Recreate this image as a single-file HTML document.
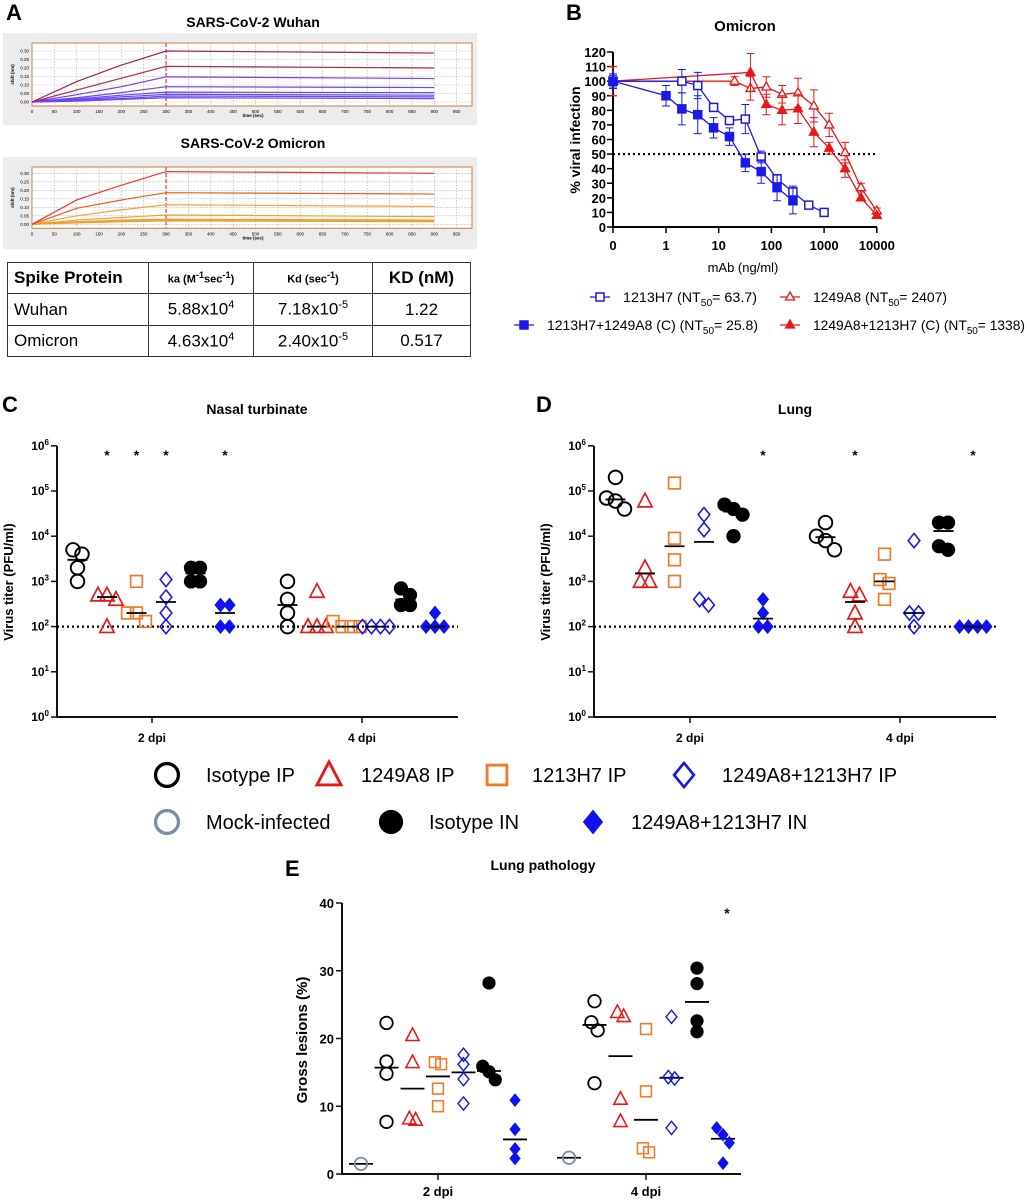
<!DOCTYPE html>
<html><head><meta charset="utf-8"><style>
html,body{margin:0;padding:0;background:#fff;}
svg{display:block;font-family:"Liberation Sans",Arial,sans-serif;}
</style></head><body>
<svg id="fig" width="1027" height="1200" viewBox="0 0 1027 1200" xmlns="http://www.w3.org/2000/svg">
<text x="6" y="20" font-size="22" font-weight="bold">A</text>
<text x="253" y="27" font-size="14" font-weight="bold" text-anchor="middle">SARS-CoV-2 Wuhan</text>
<text x="253" y="148" font-size="14" font-weight="bold" text-anchor="middle">SARS-CoV-2 Omicron</text>
<text x="566" y="20" font-size="22" font-weight="bold">B</text>
<text x="745" y="31" font-size="15" font-weight="bold" text-anchor="middle">Omicron</text>
<text x="2" y="412" font-size="22" font-weight="bold">C</text>
<text x="257" y="414" font-size="14" font-weight="bold" text-anchor="middle">Nasal turbinate</text>
<text x="536" y="412" font-size="22" font-weight="bold">D</text>
<text x="795" y="414" font-size="14" font-weight="bold" text-anchor="middle">Lung</text>
<text x="285" y="876" font-size="22" font-weight="bold">E</text>
<text x="543" y="870" font-size="14" font-weight="bold" text-anchor="middle">Lung pathology</text>
<g id="layer"></g>
</svg>
<div style="position:absolute;left:7px;top:262px;width:464px;height:94px;font-family:'Liberation Sans',Arial,sans-serif;">
<table style="border-collapse:collapse;width:464px;height:94px;font-size:17px;">
<tr style="height:31px">
<td style="border:1.5px solid #333;font-weight:bold;font-size:17px;padding-left:6px;width:133px">Spike Protein</td>
<td style="border:1.5px solid #333;font-weight:bold;font-size:11px;text-align:center;width:102px">ka (M<sup>-1</sup>sec<sup>-1</sup>)</td>
<td style="border:1.5px solid #333;font-weight:bold;font-size:11px;text-align:center;width:116px">Kd (sec<sup>-1</sup>)</td>
<td style="border:1.5px solid #333;font-weight:bold;font-size:17px;text-align:center">KD (nM)</td></tr>
<tr style="height:32px">
<td style="border:1.5px solid #333;padding-left:6px">Wuhan</td>
<td style="border:1.5px solid #333;text-align:center">5.88x10<sup style="font-size:11px">4</sup></td>
<td style="border:1.5px solid #333;text-align:center">7.18x10<sup style="font-size:11px">-5</sup></td>
<td style="border:1.5px solid #333;text-align:center">1.22</td></tr>
<tr style="height:31px">
<td style="border:1.5px solid #333;padding-left:6px">Omicron</td>
<td style="border:1.5px solid #333;text-align:center">4.63x10<sup style="font-size:11px">4</sup></td>
<td style="border:1.5px solid #333;text-align:center">2.40x10<sup style="font-size:11px">-5</sup></td>
<td style="border:1.5px solid #333;text-align:center">0.517</td></tr>
</table></div>
<script>
const bliTimes = [0, 100, 200, 300, 900];
const wuhanTraces = [
 [0,0.12,0.217,0.30,0.288],[0,0.07,0.14,0.21,0.20],[0,0.043,0.09,0.148,0.138],
 [0,0.025,0.055,0.09,0.085],[0,0.018,0.04,0.058,0.055],[0,0.013,0.03,0.045,0.04],
 [0,0.01,0.02,0.035,0.03],[0,0.005,0.015,0.025,0.02]];
const omicronTraces = [
 [0,0.143,0.23,0.31,0.30],[0,0.094,0.143,0.186,0.178],[0,0.05,0.085,0.115,0.105],
 [0,0.025,0.04,0.055,0.045],[0,0.015,0.025,0.03,0.025],[0,0.01,0.02,0.025,0.02],[0,0.008,0.015,0.02,0.015]];
const bliTicksX = [0,50,100,150,200,250,300,350,400,450,500,550,600,650,700,750,800,850,900,950];
const bliTicksY = [0,0.05,0.10,0.15,0.20,0.25,0.30];
const bOpenX=[0,2,4,8,16,32,64,128,256,512,1000];
const bOpenY=[100,100,97,82,73,74,48,33,24,15,10];
const bOpenE=[5,8,9,2,2,10,4,3,4,0,0];
const bFillX=[0,1,2,4,8,16,32,64,128,256];
const bFillY=[100,90,81,77,68,62,44,38,27,18];
const bFillE=[4,7,11,13,7,6,6,8,9,9];
const rOpenX=[0,20,40,80,160,320,640,1250,2500,5000,10000];
const rOpenY=[100,100,95,96,91,92,83,70,51,27,11];
const rOpenE=[10,3,8,7,6,10,11,8,7,3,2];
const rFillX=[0,40,80,160,320,640,1250,2500,5000,10000];
const rFillY=[100,106,84,80,81,65,54,40,20,8];
const rFillE=[10,13,7,10,10,10,4,6,0,0];
const bTicksY=[0,10,20,30,40,50,60,70,80,90,100,110,120];
const bTicksX=[0,1,10,100,1000,10000];
const groups=['circle','tri','sq','dia','bcirc','bdia'];
const nasal2=[[1000,2000,4000,5000],[100,400,500,500],[130,200,200,1000],[100,200,450,1100],[1000,1000,2000,2000],[100,100,300,300]];
const nasalMean2=[3000,450,200,350,1500,200];
const nasal4=[[100,200,400,1000],[100,100,100,600],[100,100,100,130],[100,100,100,100],[300,300,500,700],[100,100,100,200]];
const nasalMean4=[300,100,100,100,400,100];
const lung2=[[40000,60000,70000,200000],[1000,1000,2000,60000],[1000,3000,9000,150000],[300,400,14000,30000],[10000,30000,40000,50000],[100,100,200,400]];
const lungMean2=[65000,1500,6000,7500,35000,150];
const lung4=[[5000,8000,10000,20000],[100,200,500,600],[400,900,1100,4000],[100,200,200,8000],[5000,6000,20000,20000],[100,100,100,100]];
const lungMean4=[9500,350,1000,200,13000,100];
const nasalStars2=[1,2,3,5]; const nasalStars4=[];
const lungStars2=[5]; const lungStars4=[1,5];
const logTicks=[0,1,2,3,4,5,6];
const eGroups=['mock','circle','tri','sq','dia','bcirc','bdia'];
const path2=[[1.5],[22.3,16.6,14.8,7.7],[20.5,16.5,8,8.2],[16.5,16.2,12.6,10],[17.6,16.2,14,10.4],[28.2,15.9,15.1,13.9],[10.9,6.6,3.7,2.3]];
const pathMean2=[1.5,15.7,12.6,14.4,15,15.2,5.1];
const path4=[[2.4],[25.5,22.4,21.2,13.4],[23.9,23.3,11.1,7.8],[21.4,12.2,3.8,3.2],[23.2,14.3,14.1,6.8],[30.4,28.1,22.6,21],[6.8,5.8,4.6,1.6]];
const pathMean4=[2.4,22,17.4,8,14.2,25.4,5.2];
const eTicksY=[0,10,20,30,40];

const NS='http://www.w3.org/2000/svg';
const layer=document.getElementById('layer');
function mk(tag,attrs,parent){const e=document.createElementNS(NS,tag);for(const k in attrs)e.setAttribute(k,attrs[k]);(parent||layer).appendChild(e);return e;}
function txt(s,x,y,size,anchor,weight,parent){const t=mk('text',{x:x,y:y,'font-size':size,'text-anchor':anchor||'start','font-weight':weight||'normal'},parent);t.textContent=s;return t;}

function drawBli(top,zeroY,traces,colors,name){
  const bg=mk('rect',{x:3,y:top,width:474,height:92,fill:'#ececec',rx:2});
  
  
  const pt=top+10, pb=zeroY+4;
  const plot=mk('rect',{x:32,y:pt,width:440,height:pb-pt,fill:'#fff',stroke:'#d07a3a','stroke-width':1});
  
  
  const xA=t=>32+t*0.447, yA=v=>zeroY-v*170;
  bliTicksX.forEach(t=>{const l=mk('line',{x1:xA(t),x2:xA(t),y1:pt,y2:pb,stroke:'#aaa','stroke-width':0.6,'stroke-dasharray':'1.5,1.5'});
    
    
    const tl=txt(String(t),xA(t),pb+7,4.5,'middle');
    
    });
  bliTicksY.forEach(v=>{const l=mk('line',{x1:32,x2:472,y1:yA(v),y2:yA(v),stroke:'#aaa','stroke-width':0.6,'stroke-dasharray':'1.5,1.5'});
    
    
    const tl=txt(v.toFixed(2),29,yA(v)+1.5,4.5,'end');
    
    });
  const xl=txt('time (sec)',253,pb+11,4.5,'middle','bold');
  
  
  const yl=txt('shift (nm)',0,0,4.5,'middle','bold');
  yl.setAttribute('transform','translate(14,'+((pt+pb)/2)+') rotate(-90)');
  
  
  const dl=mk('line',{x1:xA(300),x2:xA(300),y1:pt,y2:pb,stroke:'#e04040','stroke-width':1.2,'stroke-dasharray':'4,2'});
  
  
  traces.slice().reverse().forEach((tr,ri)=>{const i=traces.length-1-ri;
    const pts=bliTimes.map((t,j)=>xA(t)+','+yA(tr[j])).join(' ');
    const p=mk('polyline',{points:pts,fill:'none',stroke:colors[Math.min(i,colors.length-1)],'stroke-width':1.2});
    
    });
}
drawBli(33,102,wuhanTraces,['#a0205a','#b02850','#7a40e8','#6a48f0'],'wuhan-sensorgram');
drawBli(157,224.3,omicronTraces,['#e83a2a','#ee5a22','#f5a040','#f0a030'],'omicron-sensorgram');

const xB=v=>v===0?613:666+Math.log10(v)*52.7;
const yB=p=>227-p*175/120;
{
 const ax=mk('path',{d:'M613,52 L613,227 L877,227',fill:'none',stroke:'#000','stroke-width':2});
 
 
 bTicksY.forEach(v=>{const l=mk('line',{x1:607,x2:613,y1:yB(v),y2:yB(v),stroke:'#000','stroke-width':1.5});
  
  
  const t=txt(String(v),606,yB(v)+5,13,'end','bold');
  
  });
 bTicksX.forEach(v=>{const l=mk('line',{x1:xB(v),x2:xB(v),y1:227,y2:233,stroke:'#000','stroke-width':1.5});
  
  
  const t=txt(String(v),xB(v),250,13,'middle','bold');
  
  });
 const yt=txt('% viral infection',0,0,14,'middle','bold');
 yt.setAttribute('transform','translate(580,140) rotate(-90)');
 
 
 const xt=txt('mAb (ng/ml)',743,272,13,'middle');
 
 
 const ref=mk('line',{x1:613,x2:877,y1:yB(50),y2:yB(50),stroke:'#000','stroke-width':2.2,'stroke-dasharray':'2,3'});
 
 
}
function bSeries(X,Y,E,color,shape,filled,name){
  const pts=X.map((x,i)=>xB(x)+','+yB(Y[i])).join(' ');
  const pl=mk('polyline',{points:pts,fill:'none',stroke:color,'stroke-width':1.3});
  
  
  X.forEach((x,i)=>{const cx=xB(x),cy=yB(Y[i]);
    if(E[i]>0){const eb=mk('path',{d:`M${cx},${yB(Y[i]+E[i])}V${yB(Y[i]-E[i])}M${cx-4},${yB(Y[i]+E[i])}h8M${cx-4},${yB(Y[i]-E[i])}h8`,stroke:color,'stroke-width':1,fill:'none'});
      
      }
    let m;
    if(shape==='sq') m=mk('rect',{x:cx-4,y:cy-4,width:8,height:8,fill:filled?color:'#fff',stroke:color,'stroke-width':1.5});
    else m=mk('path',{d:`M${cx},${cy-5}L${cx+4.5},${cy+3}L${cx-4.5},${cy+3}Z`,fill:filled?color:'#fff',stroke:color,'stroke-width':1.3});
    
    });
}
bSeries(rOpenX,rOpenY,rOpenE,'#e81818','tri',false,'b-1249a8');
bSeries(rFillX,rFillY,rFillE,'#e81818','tri',true,'b-1249a8-1213h7');
bSeries(bOpenX,bOpenY,bOpenE,'#1a1ae8','sq',false,'b-1213h7');
bSeries(bFillX,bFillY,bFillE,'#1a1ae8','sq',true,'b-1213h7-1249a8');
function bLegend(x,y,color,shape,filled,label,val,len,name){
  const l=mk('line',{x1:x-10,x2:x+10,y1:y,y2:y,stroke:color,'stroke-width':1.3});
  
  
  let m;
  if(shape==='sq') m=mk('rect',{x:x-4,y:y-4,width:8,height:8,fill:filled?color:'#fff',stroke:color,'stroke-width':1.5});
  else m=mk('path',{d:`M${x},${y-5}L${x+4.5},${y+3}L${x-4.5},${y+3}Z`,fill:filled?color:'#fff',stroke:color,'stroke-width':1.3});
  
  
  const t=mk('text',{x:x+23,y:y+5,'font-size':14,textLength:len,lengthAdjust:'spacingAndGlyphs'});
  
  
  t.innerHTML=label+' (NT<tspan font-size="10" dy="4">50</tspan><tspan dy="-4">= '+val+')</tspan>';
}
bLegend(600,297,'#1a1ae8','sq',false,'1213H7','63.7',134,'b-legend-1213h7');
bLegend(790,297,'#e81818','tri',false,'1249A8','2407',134,'b-legend-1249a8');
bLegend(524,325,'#1a1ae8','sq',true,'1213H7+1249A8 (C)','25.8',211,'b-legend-1213h7-1249a8');
bLegend(790,325,'#e81818','tri',true,'1249A8+1213H7 (C)','1338',212,'b-legend-1249a8-1213h7');

const COL={circle:'#000',tri:'#e81818',sq:'#f07a28',dia:'#1818e0',bcirc:'#000',bdia:'#1010f0',mock:'#7a8ea0'};
function marker(type,x,y,s){
  const c=COL[type];let m;
  if(type==='circle'||type==='mock') m=mk('circle',{cx:x,cy:y,r:s*0.52,fill:'none',stroke:c,'stroke-width':s*0.15});
  else if(type==='bcirc') m=mk('circle',{cx:x,cy:y,r:s*0.55,fill:c});
  else if(type==='tri') m=mk('path',{d:`M${x},${y-s*0.6}L${x+s*0.55},${y+s*0.45}L${x-s*0.55},${y+s*0.45}Z`,fill:'none',stroke:c,'stroke-width':s*0.13});
  else if(type==='sq') m=mk('rect',{x:x-s*0.45,y:y-s*0.45,width:s*0.9,height:s*0.9,fill:'none',stroke:c,'stroke-width':s*0.13});
  else m=mk('path',{d:`M${x},${y-s*0.55}L${x+s*0.45},${y}L${x},${y+s*0.55}L${x-s*0.45},${y}Z`,fill:type==='bdia'?c:'none',stroke:c,'stroke-width':type==='bdia'?0.5:s*0.12});
  return m;
}
function spread(ys,thr){
  const idx=ys.map((y,i)=>i).sort((a,b)=>ys[a]-ys[b]);const off=new Array(ys.length).fill(0);
  let cl=[idx[0]];
  const flush=()=>{cl.forEach((k,j)=>off[k]=(j-(cl.length-1)/2)*9);};
  for(let i=1;i<idx.length;i++){if(Math.abs(ys[idx[i]]-ys[cl[cl.length-1]])<thr)cl.push(idx[i]);else{flush();cl=[idx[i]];}}
  flush();return off;
}

function titerPanel(ax,xEnd,tick2,tick4,d2,m2,d4,m4,st2,st4,name){
  const yT=v=>717-Math.log10(v)*45.2;
  const a=mk('path',{d:`M${ax},446 L${ax},717 L${xEnd},717`,fill:'none',stroke:'#111','stroke-width':2});
  
  
  logTicks.forEach(p=>{const y=717-p*45.2;
    const l=mk('line',{x1:ax-6,x2:ax,y1:y,y2:y,stroke:'#111','stroke-width':1.5});
    
    
    const t=mk('text',{x:ax-8,y:y+4,'font-size':12,'font-weight':'bold','text-anchor':'end'});
    t.innerHTML='10<tspan font-size="8" dy="-5">'+p+'</tspan>';
    
    });
  const yt=txt('Virus titer (PFU/ml)',0,0,13,'middle','bold');
  yt.setAttribute('transform',`translate(${ax-44},582) rotate(-90)`);
  
  
  [[tick2,'2 dpi'],[tick4,'4 dpi']].forEach(([x,s])=>{
    const l=mk('line',{x1:x,x2:x,y1:717,y2:723,stroke:'#111','stroke-width':1.5});
    
    
    const t=txt(s,x,742,12,'middle','bold');
    
    });
  const ref=mk('line',{x1:ax,x2:xEnd,y1:yT(100),y2:yT(100),stroke:'#000','stroke-width':2.2,'stroke-dasharray':'2,3'});
  
  
  const offs=[-74.5,-45,-15.5,14,43.5,73];
  [[tick2,d2,m2,st2,'2dpi'],[tick4,d4,m4,st4,'4dpi']].forEach(([tk,D,M,S,day])=>{
    D.forEach((vals,g)=>{const cx=tk+offs[g];
      const ys=vals.map(yT);const jo=spread(ys,10);
      vals.forEach((v,i)=>{const m=marker(groups[g],cx+jo[i],ys[i],13);
        
        });
      const ml=mk('line',{x1:cx-10,x2:cx+10,y1:yT(M[g]),y2:yT(M[g]),stroke:'#000','stroke-width':1.8});
      
      });
    S.forEach(g=>{const s=txt('*',tk+offs[g],460,14,'middle','bold');
      
      });
  });
}
titerPanel(57,458,152,362,nasal2,nasalMean2,nasal4,nasalMean4,nasalStars2,nasalStars4,'nasal');
titerPanel(594,996,690,900,lung2,lungMean2,lung4,lungMean4,lungStars2,lungStars4,'lung');

const legendItems=[['circle',167,775,'Isotype IP',206],['tri',329,775,'1249A8 IP',361],['sq',497,775,'1213H7 IP',532],['dia',684,775,'1249A8+1213H7 IP',722],
 ['mock',167,822,'Mock-infected',206],['bcirc',391,822,'Isotype IN',429],['bdia',593,822,'1249A8+1213H7 IN',631]];
legendItems.forEach(([t,x,y,s,tx])=>{const m=marker(t,x,y,22);
  
  
  const l=txt(s,tx,y+7,20,'start');
  
  });

{
 const yE=v=>1174-v*6.775;
 const a=mk('path',{d:'M342,903 L342,1174 L741,1174',fill:'none',stroke:'#111','stroke-width':2});
 
 
 eTicksY.forEach(v=>{const l=mk('line',{x1:336,x2:342,y1:yE(v),y2:yE(v),stroke:'#111','stroke-width':1.5});
   
   
   const t=txt(String(v),334,yE(v)+5,13,'end','bold');
   
   });
 const yt=txt('Gross lesions (%)',0,0,15,'middle','bold');
 yt.setAttribute('transform','translate(307,1040) rotate(-90)');
 
 
 const offs=[-77,-51.5,-25.5,0,25.5,51,77];
 [[438,path2,pathMean2,'2 dpi'],[646,path4,pathMean4,'4 dpi']].forEach(([tk,D,M,lab])=>{
   const l=mk('line',{x1:tk,x2:tk,y1:1174,y2:1180,stroke:'#111','stroke-width':1.5});
   
   
   const t=txt(lab,tk,1196,13,'middle','bold');
   
   
   D.forEach((vals,g)=>{const cx=tk+offs[g];const ys=vals.map(yE);const jo=spread(ys,9);
     const ml=mk('line',{x1:cx-12,x2:cx+12,y1:yE(M[g]),y2:yE(M[g]),stroke:'#000','stroke-width':1.8});
     
     
     vals.forEach((v,i)=>{const m=marker(eGroups[g],cx+jo[i]*0.7,ys[i],12);
       
       });});
 });
 const s=txt('*',727,918,14,'middle','bold');
 
 
}
</script>
</body></html>
